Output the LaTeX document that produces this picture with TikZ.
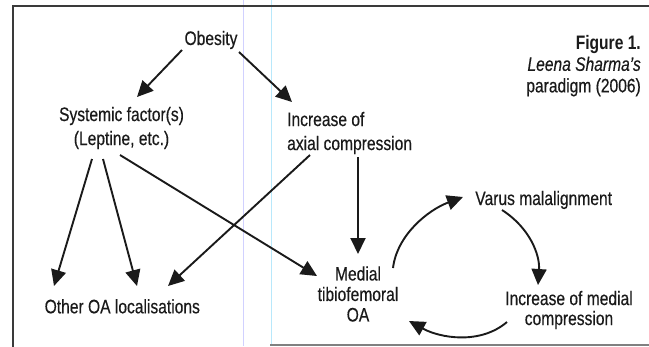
\documentclass[tikz,border=0pt]{standalone}
\usepackage{fontspec}
\setmainfont{Liberation Sans}[FakeStretch=0.8, UprightFeatures={FakeBold=0.35}, ItalicFeatures={FakeBold=0.35}]
\usetikzlibrary{arrows.meta,calc}
\definecolor{ink}{HTML}{1A1A1A}
\definecolor{framec}{HTML}{3A3A3A}
\begin{document}
\begin{tikzpicture}[x=1pt,y=-1pt,
  lbl/.style={inner sep=0pt, text=ink, font=\fontsize{19.5}{24}\selectfont},
  arr/.style={line width=1.9pt, draw=ink, -{Triangle[length=16pt,width=15pt]}},
  framestyle/.style={line width=2pt, draw=framec},
  scanline/.style={line width=1pt}]
\useasboundingbox[fill=white] (0,0) rectangle (649,346);
% scan artefacts
\draw[scanline, blue!18] (243,0) -- (243,346);
\draw[scanline, cyan!28] (271,0) -- (271,346);
% frame
\draw[framestyle] (660,5.5) -- (12.5,5.5) -- (12.5,350);
\draw[line width=1.5pt, black!50] (270,345) -- (660,345);
% nodes
\node[lbl, anchor=base] (ob) at (211,45) {Obesity};
\node[lbl, align=center] (sys) at (121.5,128) {Systemic factor(s)\\(Leptine, etc.)};
\node[lbl, align=left, anchor=west] (inc) at (287,133) {Increase of\\axial compression};
\node[lbl, align=center, font=\fontsize{19.5}{20.5}\selectfont] (med) at (358,294) {Medial\\tibiofemoral\\OA};
\node[lbl, anchor=base] (oth) at (122.3,313.3) {Other OA localisations};
\node[lbl, anchor=base] (var) at (543.7,205) {Varus malalignment};
\node[lbl, align=center, font=\fontsize{19.5}{20}\selectfont] (incm) at (569,310) {Increase of medial\\compression};
\node[lbl, align=right, anchor=north east, font=\fontsize{19.5}{21.5}\selectfont] (fig) at (641,35) {\textbf{Figure 1.}\\\textit{Leena Sharma's}\\paradigm (2006)};
% arrows
\draw[arr] ($(ob.base)+(-29,5)$) -- ($(sys.center)+(15.5,-31)$);
\draw[arr] ($(ob.base)+(28,7)$) -- ($(inc.west)+(5,-31)$);
\draw[arr] ($(sys.center)+(-29.5,31)$) -- ($(oth.base)+(-68.3,-27.3)$);
\draw[arr] ($(sys.center)+(-18.5,31)$) -- ($(oth.base)+(14.7,-27.3)$);
\draw[arr] ($(sys.center)+(-1.5,27)$) -- ($(med.center)+(-41,-18)$);
\draw[arr] ($(inc.west)+(23,22)$) -- ($(oth.base)+(45.7,-27.3)$);
\draw[arr] ($(inc.west)+(71,24)$) -- ($(med.center)+(0,-40)$);
% cycle
\draw[arr] ($(med.center)+(35,-26)$) .. controls (397,235) and (428,210) .. ($(var.base)+(-80.7,-8)$);
\draw[arr] ($(var.base)+(-41.7,5)$) .. controls (530,228) and (540,255) .. ($(incm.center)+(-31,-25)$);
\draw[arr] ($(incm.center)+(-62,12)$) .. controls (480,345) and (440,338) .. ($(med.center)+(51,27)$);
\end{tikzpicture}
\end{document}
